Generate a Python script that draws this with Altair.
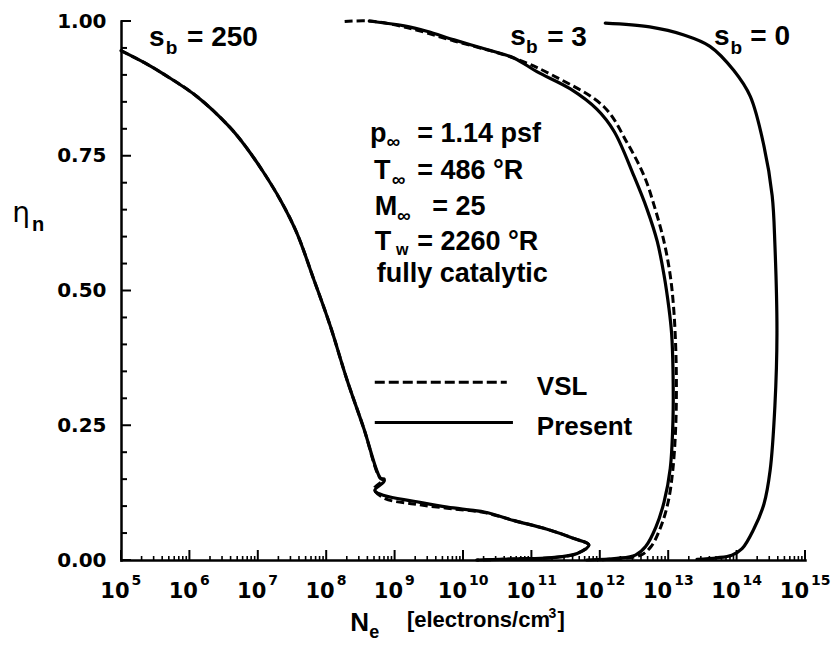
import altair as alt
import pandas as pd
import numpy as np

# ---------------- data (log10 Ne, eta_n) ----------------
S250_PRESENT_LOGN = [5.00, 5.38, 5.63, 6.11, 6.59, 6.84, 7.09, 7.33, 7.57, 7.82, 8.06, 8.30, 8.55, 8.79,
                     8.85, 8.71, 8.86, 9.28, 9.77, 10.31, 10.75, 11.23, 11.62, 11.84, 11.67, 11.27, 10.79, 10.20]
S250_PRESENT_ETA = [0.945, 0.920, 0.901, 0.860, 0.803, 0.764, 0.718, 0.668, 0.607, 0.520, 0.434, 0.336, 0.244, 0.152,
                    0.147, 0.129, 0.119, 0.109, 0.098, 0.089, 0.073, 0.057, 0.040, 0.028, 0.012, 0.004, 0.002, 0.000]

S250_VSL_LOGN = [5.00, 5.38, 5.63, 6.11, 6.59, 6.84, 7.09, 7.33, 7.57, 7.82, 8.06, 8.30, 8.55, 8.79,
                 8.85, 8.70, 8.86, 9.28, 9.77, 10.31, 10.75, 11.23, 11.62, 11.84, 11.67, 11.27, 10.79, 10.20]
S250_VSL_ETA = [0.945, 0.920, 0.901, 0.860, 0.803, 0.764, 0.718, 0.668, 0.607, 0.520, 0.434, 0.336, 0.244, 0.152,
                0.150, 0.132, 0.114, 0.104, 0.096, 0.088, 0.073, 0.057, 0.040, 0.028, 0.012, 0.004, 0.002, 0.000]

S3_PRESENT_LOGN = [8.63, 9.14, 9.47, 9.87, 10.35, 10.75, 11.08, 11.57, 11.96, 12.21, 12.50, 12.69, 12.84,
                   12.94, 13.01, 13.05, 13.07, 13.07, 13.03, 12.94, 12.82, 12.67, 12.52, 12.25, 11.81]
S3_PRESENT_ETA = [1.000, 0.991, 0.981, 0.965, 0.947, 0.931, 0.906, 0.874, 0.836, 0.795, 0.712, 0.651, 0.591,
                  0.528, 0.468, 0.420, 0.353, 0.261, 0.170, 0.108, 0.061, 0.025, 0.009, 0.003, 0.000]

S3_VSL_LOGN = [8.27, 8.63, 9.14, 9.87, 10.75, 11.33, 12.06, 12.40, 12.65, 12.81, 12.94, 13.03, 13.08, 13.11,
               13.12, 13.11, 13.07, 13.00, 12.89, 12.75, 12.60, 12.32, 11.96]
S3_VSL_ETA = [0.999, 1.000, 0.989, 0.963, 0.931, 0.898, 0.841, 0.774, 0.712, 0.651, 0.590, 0.528, 0.467, 0.394,
              0.321, 0.248, 0.170, 0.108, 0.061, 0.025, 0.009, 0.003, 0.000]

S0_PRESENT_LOGN = [12.08, 12.73, 13.23, 13.61, 13.96, 14.20, 14.40, 14.52, 14.56, 14.59, 14.56, 14.49, 14.40,
                   14.25, 14.08, 13.93, 13.71, 13.42]
S0_PRESENT_ETA = [0.996, 0.989, 0.974, 0.953, 0.908, 0.860, 0.768, 0.676, 0.585, 0.420, 0.286, 0.166, 0.104,
                  0.057, 0.021, 0.009, 0.004, 0.001]

Y_TICK_LABELS = [0.0, 0.25, 0.50, 0.75, 1.00]
X_DECADES = list(range(5, 16))

# ---------------- layout / style ----------------
W, H = 684, 539
LIB = "Liberation Sans"
DJV = "DejaVu Sans"
xs = alt.Scale(domain=[5, 15], nice=False, zero=False)
ys = alt.Scale(domain=[0, 1], nice=False, zero=False)
X_AX = alt.Axis(domain=True, domainColor="black", domainWidth=2.5, domainCap="square",
                labels=False, ticks=False, grid=False, title=None)
Y_AX = alt.Axis(values=Y_TICK_LABELS, format=".2f", labelFont=DJV, labelFontWeight="bold",
                labelFontSize=20, labelColor="black", labelPadding=15, ticks=False, grid=False,
                domain=True, domainColor="black", domainWidth=2.5, domainCap="square", title=None)


def X(field):
    return alt.X(field, scale=xs, axis=X_AX, title=None)


def Y(field):
    return alt.Y(field, scale=ys, axis=Y_AX, title=None)


def curves(pairs):
    frames = []
    for name, lx, ly in pairs:
        frames.append(pd.DataFrame({"curve": name, "logN": lx, "eta": ly, "i": range(len(lx))}))
    return pd.concat(frames, ignore_index=True)


present = curves([("250", S250_PRESENT_LOGN, S250_PRESENT_ETA),
                  ("3", S3_PRESENT_LOGN, S3_PRESENT_ETA),
                  ("0", S0_PRESENT_LOGN, S0_PRESENT_ETA)])
vsl = curves([("250", S250_VSL_LOGN, S250_VSL_ETA),
              ("3", S3_VSL_LOGN, S3_VSL_ETA)])

present_layer = alt.Chart(present).mark_line(
    color="black", strokeWidth=3.2, strokeJoin="round", strokeCap="round", interpolate="catmull-rom"
).encode(x=X("logN:Q"), y=Y("eta:Q"), detail="curve:N", order="i:Q")

vsl_layer = alt.Chart(vsl).mark_line(
    color="black", strokeWidth=3, strokeDash=[8, 4], strokeJoin="round", interpolate="catmull-rom"
).encode(x=X("logN:Q"), y=Y("eta:Q"), detail="curve:N", order="i:Q")

# inward ticks
x_major = pd.DataFrame({"logN": X_DECADES})
x_minor = pd.DataFrame({"logN": [n + np.log10(k) for n in range(5, 15) for k in range(2, 10)]})
y_major = pd.DataFrame({"eta": Y_TICK_LABELS})
y_minor = pd.DataFrame({"eta": [round(0.05 * i, 2) for i in range(21) if i % 5 != 0]})

xt1 = alt.Chart(x_major).mark_rule(color="black", strokeWidth=2).encode(
    x=X("logN:Q"), y=alt.value(H), y2=alt.value(H - 10))
xt2 = alt.Chart(x_minor).mark_rule(color="black", strokeWidth=1.6).encode(
    x=X("logN:Q"), y=alt.value(H), y2=alt.value(H - 4))
yt1 = alt.Chart(y_major).mark_rule(color="black", strokeWidth=2).encode(
    y=Y("eta:Q"), x=alt.value(0), x2=alt.value(10))
yt2 = alt.Chart(y_minor).mark_rule(color="black", strokeWidth=2).encode(
    y=Y("eta:Q"), x=alt.value(0), x2=alt.value(6))


# x tick labels 10^n
def xlab(decs, text_fn, size, dx, ypix, align):
    df = pd.DataFrame({"logN": decs, "t": [text_fn(d) for d in decs]})
    return alt.Chart(df).mark_text(font=DJV, fontWeight="bold", fontSize=size, align=align,
                                   baseline="alphabetic", dx=dx, color="black").encode(
        x=X("logN:Q"), y=alt.value(ypix), text="t:N")


one = [d for d in X_DECADES if d < 10]
two = [d for d in X_DECADES if d >= 10]
xl = [
    xlab(one, lambda d: "10", 21, 8.5, H + 38, "right"),
    xlab(one, lambda d: str(d), 14, 10.5, H + 25, "left"),
    xlab(two, lambda d: "10", 21, 4, H + 38, "right"),
    xlab(two, lambda d: str(d), 14, 6, H + 25, "left"),
]


def txt(text, x, y, size, font=LIB, weight="bold"):
    df = pd.DataFrame({"t": [text], "x": [x], "y": [y]})
    return alt.Chart(df).mark_text(font=font, fontWeight=weight, fontSize=size, align="left",
                                   baseline="alphabetic", color="black").encode(
        x=X("x:Q"), y=Y("y:Q"), text="t:N")


texts = [
    # s_b labels
    txt("s", 5.41, 0.953, 28), txt("b", 5.655, 0.938, 19), txt("= 250", 5.965, 0.953, 28),
    txt("s", 10.69, 0.955, 28), txt("b", 10.92, 0.940, 19), txt("= 3", 11.23, 0.953, 28),
    txt("s", 13.67, 0.955, 28), txt("b", 13.91, 0.938, 19), txt("= 0", 14.20, 0.955, 28),
    # conditions
    txt("p", 8.64, 0.776, 27), txt("∞", 8.88, 0.764, 19), txt("= 1.14 psf", 9.33, 0.776, 27),
    txt("T", 8.70, 0.706, 27), txt("∞", 8.96, 0.694, 19), txt("= 486 °R", 9.33, 0.706, 27),
    txt("M", 8.71, 0.640, 27), txt("∞", 9.035, 0.628, 19), txt("= 25", 9.55, 0.640, 27),
    txt("T", 8.71, 0.576, 27), txt("w", 9.02, 0.566, 16), txt("= 2260 °R", 9.33, 0.576, 27),
    txt("fully catalytic", 8.74, 0.516, 27),
    # legend labels
    txt("VSL", 11.08, 0.306, 26), txt("Present", 11.08, 0.231, 26),
    # axis titles
    txt("η", 3.41, 0.627, 28, font=DJV, weight="normal"), txt("n", 3.70, 0.610, 20),
    txt("N", 8.35, -0.132, 26), txt("e", 8.63, -0.144, 18),
    txt("[electrons/cm", 9.18, -0.124, 22), txt("3", 11.25, -0.107, 14), txt("]", 11.38, -0.124, 22),
]

legend_dash = alt.Chart(pd.DataFrame({"x": [8.71], "x2": [10.64], "y": [0.330]})).mark_rule(
    color="black", strokeWidth=3, strokeDash=[10, 4]).encode(x=X("x:Q"), x2="x2:Q", y=Y("y:Q"))
legend_solid = alt.Chart(pd.DataFrame({"x": [8.71], "x2": [10.73], "y": [0.255]})).mark_rule(
    color="black", strokeWidth=3).encode(x=X("x:Q"), x2="x2:Q", y=Y("y:Q"))

chart = alt.layer(
    present_layer, vsl_layer, xt1, xt2, yt1, yt2, *xl, legend_dash, legend_solid, *texts
).properties(
    width=W, height=H,
    padding={"left": 113, "top": 13, "right": 27, "bottom": 86},
    autosize=alt.AutoSizeParams(type="none"),
    background="white",
).configure_view(strokeWidth=0)

chart.save("out.html", embed_options={"renderer": "svg", "actions": False})
